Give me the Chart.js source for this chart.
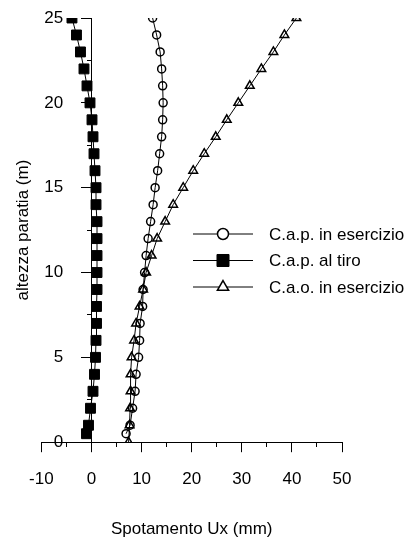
<!DOCTYPE html>
<html>
<head>
<meta charset="utf-8">
<script src="https://cdn.jsdelivr.net/npm/chart.js@4/dist/chart.umd.min.js"></script>
<style>
  html, body { margin: 0; padding: 0; background: #fff; }
</style>
</head>
<body>
<canvas id="paratiaChart" width="409" height="537"></canvas>
<script>
// quote (m) of the points along the wall
var quoteCap = [0.5, 1, 2, 3, 4, 5, 6, 7, 8, 9, 10, 11, 12, 13, 14, 15, 16, 17, 18, 19, 20, 21, 22, 23, 24, 25];
var quoteCao = [0, 1, 2, 3, 4, 5, 6, 7, 8, 9, 10, 11, 12, 13, 14, 15, 16, 17, 18, 19, 20, 21, 22, 23, 24, 25];

// horizontal displacement Ux (mm)
var capEsercizio = [6.9, 7.7, 8.2, 8.7, 8.9, 9.4, 9.6, 9.7, 10.2, 10.3, 10.6, 10.9, 11.3, 11.8, 12.3, 12.7, 13.2, 13.6, 14.0, 14.2, 14.3, 14.2, 14.0, 13.7, 13.0, 12.2];
var capTiro = [-1.0, -0.6, -0.2, 0.3, 0.6, 0.8, 0.9, 1.0, 1.0, 1.1, 1.1, 1.1, 1.1, 1.1, 0.9, 0.9, 0.7, 0.5, 0.3, 0.1, -0.3, -0.9, -1.5, -2.2, -3.0, -3.9];
var caoEsercizio = [7.4, 7.6, 7.7, 7.8, 7.8, 8.0, 8.5, 8.9, 9.6, 10.3, 10.9, 12.0, 13.1, 14.7, 16.3, 18.3, 20.3, 22.5, 24.8, 27.0, 29.3, 31.6, 33.9, 36.3, 38.5, 40.9];

var seriesNames = ['C.a.p. in esercizio', 'C.a.p. al tiro', 'C.a.o. in esercizio'];

var xTicks = [-10, 0, 10, 20, 30, 40, 50];
var xMinorTicks = [-10, -5, 0, 5, 10, 15, 20, 25, 30, 35, 40, 45, 50];
var yTicks = [0, 5, 10, 15, 20, 25];
var yMinorTicks = [0, 2.5, 5, 7.5, 10, 12.5, 15, 17.5, 20, 22.5, 25];

function toPoints(ys, xs) {
    return ys.map(function (y, i) { return { x: xs[i], y: y }; });
}
function setTicks(list) {
    return function (scale) {
        scale.ticks = list.map(function (v) { return { value: v }; });
    };
}

Chart.defaults.font.family = 'Liberation Sans';
Chart.defaults.font.size = 17;
Chart.defaults.color = '#000';

// legend drawn inside the plot, line + marker like the original
var insideLegend = {
    id: 'insideLegend',
    afterDraw: function (chart) {
        var ctx = chart.ctx;
        var marks = [
            { pointStyle: 'circle', radius: 5.5, borderWidth: 1.5, fill: '#fff' },
            { pointStyle: 'rect', radius: 8.5, borderWidth: 1, fill: '#000' },
            { pointStyle: 'triangle', radius: 6.5, borderWidth: 1.5, fill: '#fff' }
        ];
        ctx.save();
        chart.data.datasets.forEach(function (ds, i) {
            var y = 234 + i * 26.5;
            ctx.strokeStyle = '#000';
            ctx.lineWidth = 1;
            ctx.beginPath();
            ctx.moveTo(193, y);
            ctx.lineTo(253, y);
            ctx.stroke();
            ctx.fillStyle = marks[i].fill;
            ctx.lineWidth = marks[i].borderWidth;
            Chart.helpers.drawPoint(ctx, { pointStyle: marks[i].pointStyle, radius: marks[i].radius, borderWidth: marks[i].borderWidth, rotation: 0 }, 223, y);
            ctx.fillStyle = '#000';
            ctx.font = '17px "Liberation Sans"';
            ctx.textBaseline = 'middle';
            ctx.textAlign = 'left';
            ctx.fillText(ds.label, 269, y + 1);
        });
        ctx.restore();
    }
};

var ctx = document.getElementById('paratiaChart').getContext('2d');
var paratiaChart = new Chart(ctx, {
    type: 'scatter',
    data: {
        datasets: [{
            label: seriesNames[0],
            data: toPoints(quoteCap, capEsercizio),
            xAxisID: 'x',
            yAxisID: 'y',
            showLine: true,
            borderColor: '#000',
            borderWidth: 1,
            pointStyle: 'circle',
            pointRadius: 4,
            pointBorderWidth: 1.5,
            pointBorderColor: '#000',
            pointBackgroundColor: 'rgba(0,0,0,0)'
        }, {
            label: seriesNames[1],
            data: toPoints(quoteCap, capTiro),
            xAxisID: 'x',
            yAxisID: 'y',
            showLine: true,
            borderColor: '#000',
            borderWidth: 1,
            pointStyle: 'rect',
            pointRadius: 7,
            pointBorderWidth: 1,
            pointBorderColor: '#000',
            pointBackgroundColor: '#000'
        }, {
            label: seriesNames[2],
            data: toPoints(quoteCao, caoEsercizio),
            xAxisID: 'x',
            yAxisID: 'y',
            showLine: true,
            borderColor: '#000',
            borderWidth: 1,
            pointStyle: 'triangle',
            pointRadius: 5,
            pointBorderWidth: 1.5,
            pointBorderColor: '#000',
            pointBackgroundColor: 'rgba(0,0,0,0)'
        }]
    },
    options: {
        responsive: false,
        maintainAspectRatio: false,
        animation: false,
        events: [],
        layout: {
            padding: { top: 18, right: 67, left: 0, bottom: 0 }
        },
        plugins: {
            legend: { display: false },
            tooltip: { enabled: false }
        },
        scales: {
            x: {
                type: 'linear',
                axis: 'x',
                position: 'bottom',
                min: -10,
                max: 50,
                afterBuildTicks: setTicks(xTicks),
                grid: { display: true, drawOnChartArea: false, drawTicks: true, tickLength: 10, color: '#000' },
                border: { display: true, color: '#000', width: 1 },
                ticks: { padding: 17, maxRotation: 0, autoSkip: false },
                // fit() counts the tick padding twice, so the title padding is trimmed
                title: { display: true, text: 'Spotamento Ux (mm)', padding: { top: 13, bottom: -3 } }
            },
            xMinor: {
                type: 'linear',
                axis: 'x',
                position: { y: 0 },
                min: -10,
                max: 50,
                afterBuildTicks: setTicks(xMinorTicks),
                grid: { display: true, drawOnChartArea: false, drawTicks: true, tickLength: 5, color: '#000' },
                border: { display: false },
                ticks: { display: false, padding: 0 }
            },
            y: {
                type: 'linear',
                axis: 'y',
                position: { x: 0 },
                min: 0,
                max: 25,
                afterBuildTicks: setTicks(yTicks),
                grid: { display: true, drawOnChartArea: false, drawTicks: true, tickLength: 10, color: '#000' },
                border: { display: true, color: '#000', width: 1 },
                // labels of an axis placed at x = 0 sit right on the line, pad them with spaces
                ticks: { padding: 0, autoSkip: false, callback: function (v) { return v + '      '; } }
            },
            yMinor: {
                type: 'linear',
                axis: 'y',
                position: { x: 0 },
                min: 0,
                max: 25,
                afterBuildTicks: setTicks(yMinorTicks),
                grid: { display: true, drawOnChartArea: false, drawTicks: true, tickLength: 5, color: '#000' },
                border: { display: false },
                ticks: { display: false, padding: 0 }
            },
            yt: {
                type: 'linear',
                axis: 'y',
                position: 'left',
                min: 0,
                max: 1,
                grid: { display: false, drawTicks: false },
                border: { display: false },
                ticks: { display: false },
                title: { display: true, text: 'altezza paratia (m)', padding: { top: 13, bottom: 8 } }
            }
        }
    },
    plugins: [insideLegend]
});
</script>
</body>
</html>
